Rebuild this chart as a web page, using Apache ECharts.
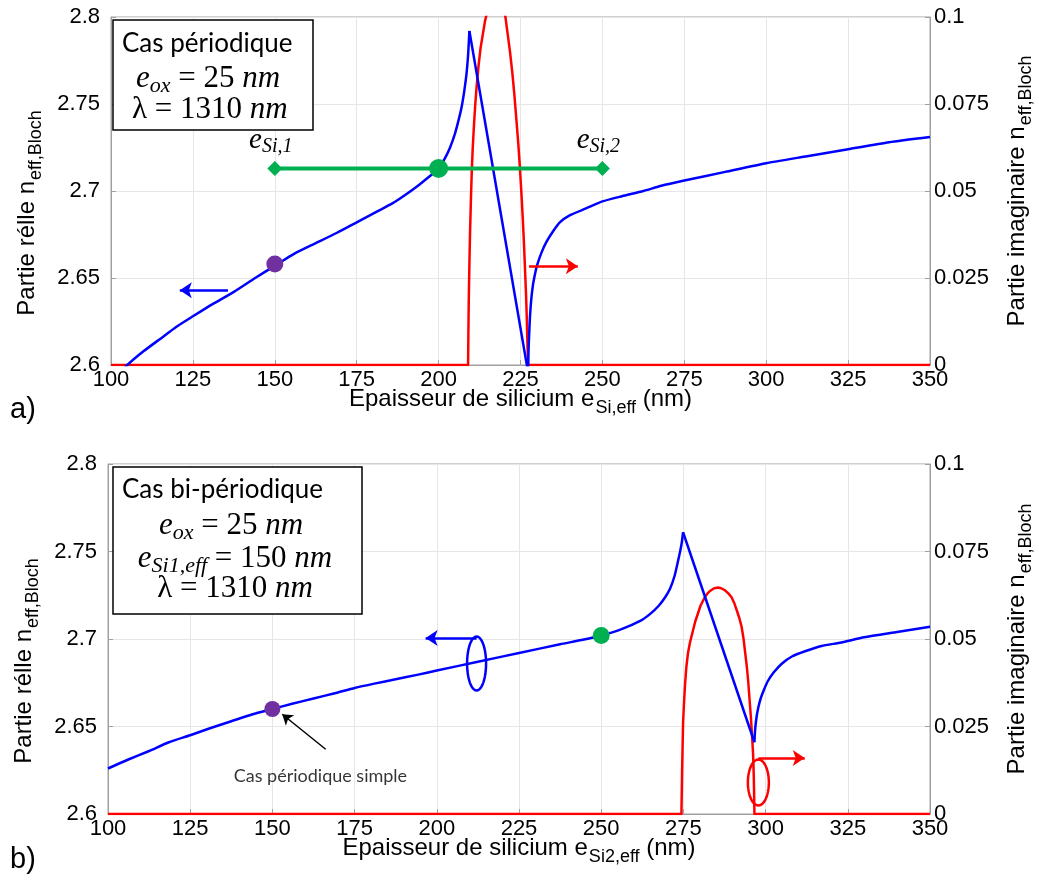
<!DOCTYPE html>
<html><head><meta charset="utf-8">
<script src="https://cdn.jsdelivr.net/npm/echarts@6.0.0/dist/echarts.min.js"></script>
<style>html,body{margin:0;padding:0;background:#fff}#c{width:1039px;height:881px}</style>
</head><body><div id="c"></div>
<script>
// ---------- tick labels ----------
const xTicks = ['100','125','150','175','200','225','250','275','300','325','350'];
const realTicks = ['2.6','2.65','2.7','2.75','2.8'];
const imagTicks = ['0','0.025','0.05','0.075','0.1'];

// ---------- (a) periodic case ----------
const aRealRise = [[100,2.590],[105,2.600],[110,2.608],[115,2.615],[120,2.622],[125,2.628],[131,2.635],[137.5,2.642],[144,2.650],[150,2.657],[156,2.664],[162.5,2.670],[169,2.676],[175,2.682],[181,2.688],[186,2.693],[190,2.698],[194,2.7035],[197,2.708],[200,2.713],[202,2.719],[203.5,2.725],[205,2.733],[206,2.740],[207,2.748],[207.8,2.757],[208.5,2.767],[209,2.778],[209.4,2.792]];
const aRealDrop = [[209.4,2.792],[227.3,2.596]];
const aRealRecover = [[227.3,2.596],[227.4,2.604],[227.5,2.611],[227.7,2.620],[227.9,2.628],[228.3,2.638],[228.8,2.646],[229.4,2.652],[230,2.657],[231.5,2.665],[233,2.671],[235,2.677],[237,2.682],[240,2.686],[245,2.690],[250,2.694],[256,2.697],[262.5,2.700],[268,2.703],[275,2.706],[287.5,2.711],[300,2.716],[312.5,2.720],[325,2.724],[337.5,2.728],[350,2.731]];
const aImag = [[100,0],[209.0,0],[209.1,0.010],[209.2,0.018],[209.4,0.029],[209.6,0.038],[209.85,0.047],[210.1,0.055],[210.4,0.062],[210.8,0.069],[211.2,0.075],[211.6,0.080],[212.2,0.086],[212.8,0.091],[213.5,0.095],[214.2,0.099],[215,0.102],[215.8,0.105],[216.6,0.107],[217.5,0.108],[218.3,0.1075],[219.1,0.106],[219.8,0.103],[220.4,0.100],[221.1,0.095],[221.8,0.090],[222.5,0.084],[223.1,0.078],[223.7,0.071],[224.3,0.064],[224.8,0.057],[225.3,0.049],[225.7,0.042],[226.1,0.034],[226.4,0.027],[226.7,0.020],[226.9,0.014],[227.1,0.007],[227.3,0],[350,0]];
const aSpan = [[150,2.713],[250,2.713]];
const aSpanLabels = ['Si,1','Si,2'];
const aPurple = [150,2.658];
const aGreen = [200,2.713];
const aArrowReal = [[135.7,2.643],[121,2.643]];
const aArrowImag = [[227.6,0.0284],[242.5,0.0284]];

// ---------- (b) bi-periodic case ----------
const bRealRise = [[100,2.626],[106,2.631],[112.5,2.636],[118.5,2.641],[125,2.645],[131,2.649],[137.5,2.653],[144,2.657],[150,2.660],[156,2.663],[162.5,2.666],[169,2.669],[175,2.672],[181,2.6745],[187.5,2.677],[194,2.6795],[200,2.682],[212.5,2.687],[225,2.692],[237.5,2.697],[244,2.6994],[250,2.702],[256,2.7055],[262,2.7105],[265,2.7145],[267.5,2.719],[269.5,2.724],[271,2.729],[272.3,2.736],[273.3,2.744],[274,2.750],[274.5,2.755],[274.9,2.761]];
const bRealDrop = [[274.9,2.761],[296.6,2.641]];
const bRealRecover = [[296.6,2.641],[296.7,2.645],[296.9,2.650],[297.3,2.656],[297.8,2.661],[298.5,2.666],[299.5,2.671],[300.7,2.676],[302.5,2.681],[305,2.686],[308,2.690],[312,2.693],[317,2.696],[323,2.698],[330,2.701],[340,2.704],[350,2.707]];
const bImag = [[100,0],[274.4,0],[274.5,0.006],[274.6,0.012],[274.75,0.019],[274.9,0.026],[275.2,0.032],[275.5,0.037],[275.9,0.042],[276.4,0.046],[277,0.049],[277.8,0.052],[278.6,0.055],[279.5,0.0575],[280.2,0.0595],[281,0.061],[281.7,0.0622],[282.5,0.0632],[283.2,0.0638],[284,0.0643],[284.8,0.0646],[285.6,0.0647],[286.5,0.0645],[287.5,0.0640],[288.6,0.0631],[289.6,0.062],[290.5,0.0602],[291.3,0.058],[292,0.056],[292.7,0.0535],[293.3,0.050],[293.8,0.046],[294.3,0.042],[294.7,0.038],[295.1,0.033],[295.5,0.028],[295.9,0.022],[296.2,0.017],[296.4,0.011],[296.5,0.006],[296.6,0],[350,0]];
const bPurple = [150,2.660];
const bGreen = [250,2.702];
const bArrowReal = [[212.1,2.7006],[196.6,2.7006]];
const bArrowImag = [[297.8,0.016],[311.9,0.016]];
const bRingReal = [212.1,2.686];
const bRingImag = [297.8,0.009];
const bNoteArrow = [[166.2,2.637],[153,2.657]];
const bNoteAt = [164.6,2.6217];
const bNote = 'Cas périodique simple';

// ---------- styles ----------
const NARROW = "'Liberation Sans Narrow','Arial Narrow','Liberation Sans',Arial,sans-serif";
const SERIF = "'Liberation Serif','DejaVu Serif',serif";
const SANS = "Lato,'Open Sans','Noto Sans',sans-serif";
const BLUE = '#0000ff', RED = '#ff0000', GREEN = '#00b050', PURPLE = '#7030a0';
const AXC = '#a0a0a0', GRIDC = '#e6e6e6';

function fmt(labels){ return v => { for (const l of labels) if (Math.abs(+l - v) < 1e-9) return l; return ''; }; }
const nameRich = {
  a: {fontSize: 24, fontFamily: NARROW, color: '#000'},
  s: {fontSize: 18, fontFamily: NARROW, color: '#000', padding: [18,0,0,1]}
};
function xAx(gi, sub){
  return {type:'value', gridIndex: gi, min: +xTicks[0], max: +xTicks[xTicks.length-1], interval: xTicks[1]-xTicks[0],
    axisLine:{show:true, onZero:false, lineStyle:{color:AXC}}, axisTick:{show:true, inside:true, length:5, lineStyle:{color:AXC}},
    splitLine:{show:true, lineStyle:{color:GRIDC, width:1}},
    axisLabel:{color:'#000', fontSize:22, fontFamily:NARROW, margin:4, formatter: fmt(xTicks), hideOverlap:false, showMinLabel:true, showMaxLabel:true},
    name: '{a|Epaisseur de silicium e}{s|' + sub + '}{a| (nm)}', nameLocation:'middle', nameGap: 16, nameMoveOverlap:false,
    nameTextStyle:{rich: nameRich, verticalAlign:'top'}};
}
function yAx(gi, ticks, right, name, pad){
  return {type:'value', gridIndex: gi, position: right ? 'right':'left', min: +ticks[0], max: +ticks[ticks.length-1], interval: ticks[1]-ticks[0],
    axisLine:{show:true, onZero:false, lineStyle:{color:AXC}}, axisTick:{show:true, inside:true, length:5, lineStyle:{color:AXC}},
    splitLine:{show:!right, lineStyle:{color:GRIDC, width:1}},
    axisLabel:{color:'#000', fontSize:22, fontFamily:NARROW, margin: right ? 4 : 11, formatter: fmt(ticks), hideOverlap:false, showMinLabel:true, showMaxLabel:true},
    name: name, nameLocation:'middle', nameRotate: 90, nameGap: right ? 69 : 66, nameMoveOverlap:false,
    nameTextStyle:{rich: nameRich, padding: pad}};
}
const realName = '{a|Partie rélle n}{s|eff,Bloch}';
const imagName = '{a|Partie imaginaire n}{s|eff,Bloch}';

function curve(xi, yi, data, color, smooth){
  return {type:'line', xAxisIndex:xi, yAxisIndex:yi, data:data, showSymbol:false, symbol:'none', clip:true,
    smooth: smooth || false, lineStyle:{color:color, width:2.5, join:'round'}, z:3, animation:false};
}
function arrow(xi, yi, coords, color, w, size){
  return {type:'lines', coordinateSystem:'cartesian2d', xAxisIndex:xi, yAxisIndex:yi, z:6,
    symbol:['none','arrow'], symbolSize: size, lineStyle:{color:color, width:w, opacity:1},
    data:[{coords: coords}], animation:false};
}
function dot(xi, yi, p, color, size){
  return {type:'scatter', xAxisIndex:xi, yAxisIndex:yi, data:[p], symbol:'circle', symbolSize:size,
    itemStyle:{color:color, opacity:1}, z:7, animation:false};
}
function ring(xi, yi, p, color, rx, ry){
  return {type:'custom', xAxisIndex:xi, yAxisIndex:yi, data:[p], z:6, animation:false,
    renderItem:(params, api) => {
      const c = api.coord([api.value(0), api.value(1)]);
      const pts = [];
      for (let i = 0; i <= 48; i++){ const t = i/48*Math.PI*2; pts.push([c[0]+rx*Math.cos(t), c[1]+ry*Math.sin(t)]); }
      return {type:'polyline', shape:{points:pts}, style:{stroke:color, lineWidth:2.5, fill:null}};
    }};
}
const mathRich = {
  e: {fontFamily: SERIF, fontStyle:'italic', fontSize: 31, color:'#000'},
  s: {fontFamily: SERIF, fontStyle:'italic', fontSize: 22, color:'#000', padding:[14,0,0,0]},
  r: {fontFamily: SERIF, fontSize: 31, color:'#000'}
};

const option = {
  animation:false,
  backgroundColor:'#fff',
  grid:[
    {left:111, top:17, width:819, height:348, show:true, borderColor:AXC, borderWidth:1, backgroundColor:'transparent', containLabel:false, outerBoundsMode:'none'},
    {left:108, top:464, width:822, height:350, show:true, borderColor:AXC, borderWidth:1, backgroundColor:'transparent', containLabel:false, outerBoundsMode:'none'}
  ],
  xAxis:[ xAx(0,'Si,eff'), xAx(1,'Si2,eff') ],
  yAxis:[
    yAx(0, realTicks, false, realName, [0,44,0,0]),
    yAx(0, imagTicks, true, imagName, [0,0,0,0]),
    yAx(1, realTicks, false, realName, [0,44,0,0]),
    yAx(1, imagTicks, true, imagName, [0,0,0,0])
  ],
  series:[
    // (a)
    curve(0,1,aImag,RED),
    curve(0,0,aRealRise,BLUE,0.2),
    curve(0,0,aRealDrop,BLUE),
    curve(0,0,aRealRecover,BLUE,0.2),
    {type:'line', xAxisIndex:0, yAxisIndex:0, z:5, animation:false,
      data: aSpan.map((p,i) => ({value:p, label:{formatter:'{e|e}{s|' + aSpanLabels[i] + '}'}})),
      symbol:'diamond', symbolSize:15, itemStyle:{color:GREEN}, lineStyle:{color:GREEN, width:4},
      label:{show:true, position:'top', distance:4, offset:[-4,0], rich:{
        e:{fontFamily:SERIF, fontStyle:'italic', fontSize:29, color:'#000'},
        s:{fontFamily:SERIF, fontStyle:'italic', fontSize:20, color:'#000', padding:[13,0,0,0]}}}},
    dot(0,0,aGreen,GREEN,19),
    dot(0,0,aPurple,PURPLE,17),
    arrow(0,0,aArrowReal,BLUE,2.5,12),
    arrow(0,1,aArrowImag,RED,2.5,12),
    // (b)
    curve(1,3,bImag,RED),
    curve(1,2,bRealRise,BLUE,0.2),
    curve(1,2,bRealDrop,BLUE),
    curve(1,2,bRealRecover,BLUE,0.2),
    dot(1,2,bGreen,GREEN,17),
    dot(1,2,bPurple,PURPLE,16),
    arrow(1,2,bArrowReal,BLUE,2.5,12),
    arrow(1,3,bArrowImag,RED,2.5,12),
    ring(1,2,bRingReal,BLUE,9.5,27),
    ring(1,3,bRingImag,RED,10.5,23),
    arrow(1,2,bNoteArrow,'#000',1.5,10),
    {type:'scatter', xAxisIndex:1, yAxisIndex:2, data:[bNoteAt], symbolSize:0, z:6, animation:false,
      label:{show:true, position:'inside', formatter: bNote, fontFamily:SANS, fontSize:18, color:'#000'}}
  ],
  graphic:[
    {type:'rect', shape:{x:113, y:20, width:200, height:110}, style:{fill:'#fff', stroke:'#000', lineWidth:1.5}, z:100},
    {type:'text', x:122, y:44, style:{text:'Cas périodique', font:'26px ' + SANS, fill:'#000', verticalAlign:'middle'}, z:101},
    {type:'text', x:136, y:79, style:{text:'{e|e}{s|ox}{r| = 25 }{e|nm}', rich:mathRich, verticalAlign:'middle'}, z:101},
    {type:'text', x:132, y:110, style:{text:'{r|λ = 1310 }{e|nm}', rich:mathRich, verticalAlign:'middle'}, z:101},
    {type:'rect', shape:{x:113, y:467, width:249, height:147}, style:{fill:'#fff', stroke:'#000', lineWidth:1.5}, z:100},
    {type:'text', x:122, y:490, style:{text:'Cas bi-périodique', font:'26px ' + SANS, fill:'#000', verticalAlign:'middle'}, z:101},
    {type:'text', x:231, y:526, style:{text:'{e|e}{s|ox}{r| = 25 }{e|nm}', rich:mathRich, align:'center', verticalAlign:'middle'}, z:101},
    {type:'text', x:235, y:559, style:{text:'{e|e}{s|Si1,eff}{r| = 150 }{e|nm}', rich:mathRich, align:'center', verticalAlign:'middle'}, z:101},
    {type:'text', x:235, y:589, style:{text:'{r|λ = 1310 }{e|nm}', rich:mathRich, align:'center', verticalAlign:'middle'}, z:101},
    {type:'text', x:10, y:410, style:{text:'a)', font:'29px ' + NARROW, fill:'#000', verticalAlign:'middle'}, z:101},
    {type:'text', x:10, y:860, style:{text:'b)', font:'29px ' + NARROW, fill:'#000', verticalAlign:'middle'}, z:101}
  ]
};
const chart = echarts.init(document.getElementById('c'), null, {renderer:'canvas'});
chart.setOption(option);
</script>
</body></html>
